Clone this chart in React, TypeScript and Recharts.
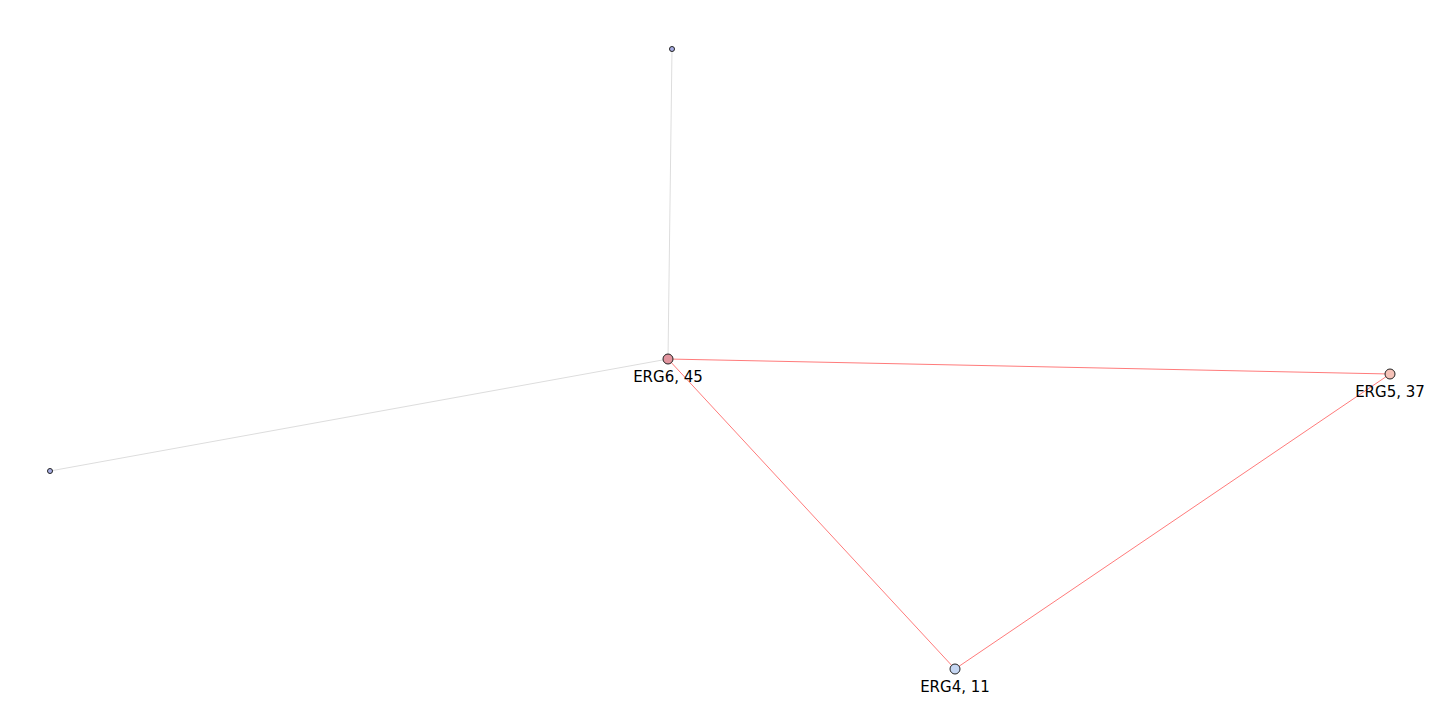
import React from 'react';
import { ScatterChart, Scatter, XAxis, YAxis } from 'recharts';

const nodeNames = ['ERG6, 45', 'ERG5, 37', 'ERG4, 11', '', ''];
const nodeX = [668, 1390, 955, 672, 50];
const nodeY = [359, 374, 669, 49, 471];
const nodeR = [5, 5, 5, 2.5, 2.5];
const nodeFill = ['#e2959f', '#f5c2b8', '#c5d6f2', '#a8aee6', '#a8aee6'];
const edgePairs: [number, number][] = [[0, 1], [0, 2], [1, 2], [0, 3], [0, 4]];
const edgeColor = ['#ff7b7b', '#ff7b7b', '#ff7b7b', '#dddddd', '#dddddd'];

const nodes = nodeX.map((x, i) => ({ x, y: nodeY[i], r: nodeR[i], fill: nodeFill[i], name: nodeNames[i] }));

const NodeShape = (p: any) => {
  const { cx, cy, payload } = p;
  return (
    <g>
      <circle cx={cx} cy={cy} r={payload.r} fill={payload.fill} stroke="#222" strokeWidth={1} />
      {payload.name && (
        <text x={cx} y={cy + 23} textAnchor="middle" fontSize={15} fontFamily="DejaVu Sans" fill="#000">
          {payload.name}
        </text>
      )}
    </g>
  );
};

export default function App() {
  return (
    <div style={{ position: 'absolute', left: 0, top: 0, background: '#fff' }}>
      <ScatterChart width={1440} height={720} margin={{ top: 0, right: 0, bottom: 0, left: 0 }}>
        <XAxis type="number" dataKey="x" domain={[0, 1440]} hide />
        <YAxis type="number" dataKey="y" domain={[0, 720]} reversed hide />
        {edgePairs.map(([a, b], i) => (
          <Scatter
            key={i}
            data={[nodes[a], nodes[b]]}
            line={{ stroke: edgeColor[i], strokeWidth: 1 }}
            shape={() => <g />}
            isAnimationActive={false}
          />
        ))}
        <Scatter data={nodes} shape={NodeShape} isAnimationActive={false} />
      </ScatterChart>
    </div>
  );
}
